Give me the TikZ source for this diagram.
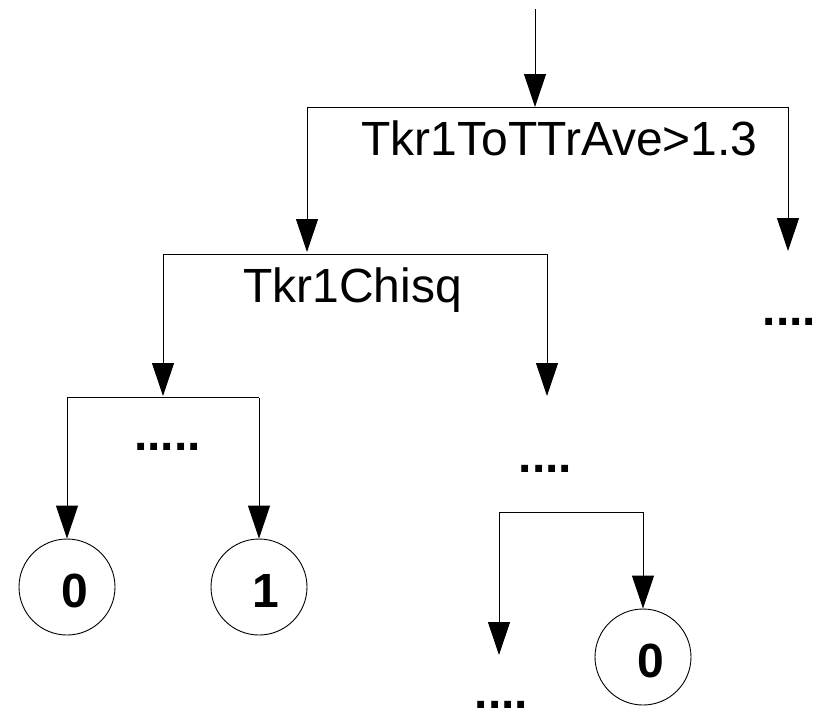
\documentclass[tikz,border=0pt]{standalone}
\usepackage{fontspec}
\setmainfont{Liberation Sans}
\usetikzlibrary{arrows.meta}
\begin{document}
\begin{tikzpicture}[x=1pt,y=-1pt,
  conn/.style={line width=1pt,draw=black},
  arr/.style={conn,-{Triangle[length=33pt,width=22pt]}},
  leaf/.style={circle,draw=black,line width=0.9pt,minimum size=96pt,inner sep=0pt},
  lbl/.style={anchor=base,inner sep=0pt,font=\fontsize{48}{48}\selectfont},
  dots/.style={anchor=base,inner sep=0pt,font=\fontsize{48}{48}\selectfont\bfseries},
  digit/.style={anchor=base,inner sep=0pt,font=\fontsize{48}{48}\selectfont\bfseries}]
\useasboundingbox[fill=white] (0,0) rectangle (818,710);

% coordinates of the split bars
\coordinate (in) at (535,9);
\coordinate (s1) at (535,107);
\coordinate (s1l) at (307,107);
\coordinate (s1r) at (788,107);
\coordinate (t1l) at (307,252);
\coordinate (t1r) at (788,251);
\coordinate (s2l) at (163,254);
\coordinate (s2r) at (547,254);
\coordinate (t2l) at (163,396);
\coordinate (t2r) at (547,396);
\coordinate (s3l) at (67,397.5);
\coordinate (s3r) at (259,397.5);
\coordinate (s4l) at (499,512);
\coordinate (s4r) at (643,512);
\coordinate (t4l) at (499,655);

% leaves
\node[leaf] (c0) at (67,587) {};
\node[leaf] (c1) at (259,587) {};
\node[leaf] (c2) at (643,657) {};
\node[digit] (d0) at (75,607.5) {0};
\node[digit] (d1) at (266,607.5) {1};
\node[digit] (d2) at (651,677) {0};

% labels
\node[lbl] (l1) at (559.5,155) {Tkr1ToTTrAve>1.3};
\node[lbl] (l2) at (352.5,302) {Tkr1Chisq};
\node[dots] (e1) at (789.5,325) {....};
\node[dots] (e2) at (167.5,450) {.....};
\node[dots] (e3) at (545.5,472) {....};
\node[dots] (e4) at (501.5,708) {....};

% connectors
\draw[arr] (in) -- (s1);
\draw[conn] (s1l) -- (s1r);
\draw[arr] (s1l) -- (t1l);
\draw[arr] (s1r) -- (t1r);
\draw[conn] (s2l) -- (s2r);
\draw[arr] (s2l) -- (t2l);
\draw[arr] (s2r) -- (t2r);
\draw[conn] (s3l) -- (s3r);
\draw[arr] (s3l) -- (c0.north);
\draw[arr] (s3r) -- (c1.north);
\draw[conn] (s4l) -- (s4r);
\draw[arr] (s4l) -- (t4l);
\draw[arr] (s4r) -- (c2.north);
\end{tikzpicture}
\end{document}
